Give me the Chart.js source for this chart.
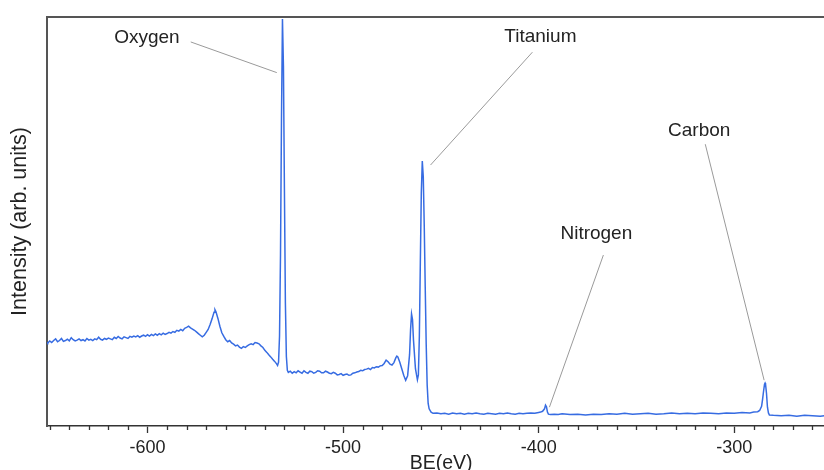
<!DOCTYPE html>
<html>
<head>
<meta charset="utf-8">
<title>XPS survey spectrum</title>
<script src="https://cdn.jsdelivr.net/npm/chart.js@4/dist/chart.umd.min.js"></script>
<style>
  html, body { margin: 0; padding: 0; background: #fff; overflow: hidden; }
  #wrap { width: 824px; height: 470px; overflow: hidden; position: relative; }
  canvas { display: block; }
</style>
</head>
<body>
<div id="wrap"><canvas id="c" width="836" height="480"></canvas></div>
<script>
// Binding energy (eV) and measured intensity (arb. units), low to high energy axis value
const bindingEnergy = [
  // background and satellite region
  -651.4, -651, -650, -649, -648, -647, -646, -645, -644, -643, -642,
  -641, -640, -639, -638, -637, -636, -635, -634, -633, -632,
  -631, -630, -629, -628, -627, -626, -625, -624, -623, -622,
  -621, -620, -619, -618, -617, -616, -615, -614, -613, -612,
  -611, -610, -609, -608, -607, -606, -605, -604, -603, -602,
  -601, -600, -599, -598, -597, -596, -595, -594, -593, -592,
  -591, -590, -589, -588, -587, -586, -585, -584, -583, -582,
  -581, -580, -579, -578, -577, -576, -575, -574, -573, -572,
  // O KLL-type bump and O 1s
  -571, -570, -569, -568, -567, -566, -565.5, -565, -564, -563,
  -562, -561, -560, -559, -558, -557, -556, -555, -554, -553,
  -552, -551, -550, -549, -548, -547, -546, -545, -544, -543,
  -542, -541, -540, -539, -538, -537, -536, -535, -534, -533.5,
  -533, -532.5, -532, -531.5, -531, -530.5, -530, -529.5, -529, -528.5,
  // plateau between O 1s and Ti 2p
  -528, -527, -526, -525, -524, -523, -522, -521, -520, -519,
  -518, -517, -516, -515, -514, -513, -512, -511, -510, -509,
  -508, -507, -506, -505, -504, -503, -502, -501, -500, -499,
  -498, -497, -496, -495, -494, -493, -492, -491, -490, -489,
  -488, -487, -486, -485, -484, -483, -482, -481, -480,
  // Ti 2p satellites and doublet
  -479, -478, -477, -476, -475, -474, -473, -472.5, -472, -471,
  -470, -469, -468, -467, -466, -465.5, -465, -464.5, -464, -463,
  -462, -461.5, -461, -460.5, -460, -459.5, -459, -458.5, -458, -457.5,
  -457, -456.5, -456, -455, -454,
  // flat background, N 1s
  -452, -450, -448, -446, -444, -442, -440, -438, -436, -434,
  -432, -430, -428, -426, -424, -422, -420, -418, -416, -414,
  -412, -410, -408, -406, -404, -402, -400, -399, -398, -397,
  -396.5, -396, -395.5, -395, -394, -392, -390, -388, -384, -380,
  -376, -372, -368, -364, -360, -356, -352, -348, -344, -340,
  -336, -332, -328, -324, -320, -316, -312, -308, -304, -300,
  // C 1s and tail
  -296, -292, -290, -288, -287, -286, -285.5, -285, -284.5, -284.2,
  -284, -283.5, -283, -282.5, -282, -280, -276, -272, -268, -264,
  -260, -256, -252, -248.4
];
const intensity = [
  20.5, 20.3, 20.8, 20.4, 20.9, 21.3, 20.6, 20.9, 21.4, 20.7, 20.9,
  21.2, 20.8, 21.6, 21.1, 20.8, 21.0, 21.3, 20.9, 21.1, 20.8,
  21.4, 21.0, 21.2, 20.9, 21.3, 21.1, 21.7, 21.2, 21.0, 21.4,
  21.2, 21.5, 21.3, 21.1, 21.7, 21.4, 21.9, 21.5, 21.3, 21.8,
  21.6, 21.4, 21.9, 21.7, 22.0, 21.8, 22.1, 21.7, 22.0, 22.2,
  21.9, 22.3, 22.0, 22.4, 22.1, 22.5, 22.2, 22.6, 22.3, 22.7,
  22.4, 22.6, 22.9, 22.7, 23.1, 22.9, 23.4, 23.2, 23.6, 23.3,
  23.9, 24.1, 24.4, 24.0, 23.7, 23.4, 23.0, 22.6, 22.2, 21.8,

  22.2, 22.9, 23.6, 24.8, 26.2, 27.8, 28.4, 27.9, 26.3, 24.4,
  22.8, 21.9, 21.1, 20.6, 20.9, 20.3, 20.0, 19.6, 19.8, 19.3,
  19.0, 19.4, 19.2, 19.6, 19.9, 20.1, 19.9, 20.4, 20.3, 20.1,
  19.6, 19.2, 18.5, 18.0, 17.4, 16.9, 16.3, 15.8, 15.2, 14.8,
  15.6, 22.0, 42.0, 75.0, 99.5, 88.0, 58.0, 30.0, 17.0, 13.6,

  13.1, 13.4, 12.9, 13.3, 13.0, 13.5, 13.2, 12.9, 13.5, 13.1,
  12.9, 13.4, 13.3, 12.9, 13.1, 13.5, 13.4, 13.0, 13.0, 13.4,
  13.2, 12.9, 12.8, 13.1, 12.9, 12.5, 12.6, 12.8, 12.4, 12.6,
  12.7, 12.4, 12.5, 12.9, 13.0, 13.2, 13.3, 13.6, 13.5, 13.8,
  13.9, 14.1, 13.8, 14.3, 14.2, 14.5, 14.4, 14.7, 14.8,

  15.3, 16.1, 15.7, 15.1, 14.9, 15.5, 16.7, 17.1, 16.9, 15.6,
  14.0, 12.4, 11.2, 12.3, 17.5, 23.5, 27.4, 26.0, 21.0, 14.0,
  11.3, 12.5, 22.0, 40.0, 57.0, 64.8, 61.0, 49.0, 34.0, 20.0,
  10.0, 5.5, 4.2, 3.4, 3.1,

  3.2, 3.0, 3.1, 2.9, 3.2, 3.0, 3.1, 2.9, 3.1, 3.0,
  3.2, 3.0, 2.9, 3.1, 3.0, 2.9, 3.1, 3.0, 3.2, 3.0,
  2.9, 3.1, 3.0, 3.1, 3.2, 3.1, 3.3, 3.4, 3.6, 4.2,
  5.1, 4.7, 3.4, 2.9, 2.8, 2.9, 2.8, 3.0, 2.8, 2.9,
  2.7, 2.9, 2.8, 3.0, 2.9, 3.1, 2.9, 3.0, 3.1, 2.9,
  3.0, 3.2, 3.0, 3.1, 3.0, 3.2, 3.1, 3.0, 3.2, 3.1,

  3.3, 3.2, 3.4, 3.5, 3.8, 4.8, 6.5, 8.5, 10.2, 10.5,
  10.3, 8.0, 4.6, 3.2, 2.7, 2.6, 2.5, 2.6, 2.4, 2.6,
  2.5, 2.4, 2.6, 2.5
];

// Major tick labels on the energy axis
const majorTicks = [-600, -500, -400, -300];

// Element call-outs: label centre and leader line, in (eV, intensity) units
const calloutNames = ['Oxygen', 'Titanium', 'Nitrogen', 'Carbon'];
const calloutLabelAt = [[-600.3, 94.9], [-399.1, 95.1], [-370.5, 46.9], [-317.9, 72.1]];
const calloutLineFrom = [[-577.9, 93.9], [-403.2, 91.4], [-366.9, 41.8], [-314.8, 68.9]];
const calloutLineTo = [[-533.9, 86.4], [-455.3, 63.8], [-394.5, 4.6], [-284.7, 11.2]];

const FONT = '"Liberation Sans", Arial, Helvetica, sans-serif';
const TEXT = '#232323';

const points = bindingEnergy.map((e, i) => ({ x: e, y: intensity[i] }));

// Frame on top, short minor ticks and element call-outs
const decorations = {
  id: 'decorations',
  afterDraw(chart) {
    const { ctx, chartArea: a, scales: { x, y } } = chart;
    ctx.save();
    // top frame line
    ctx.strokeStyle = '#555';
    ctx.lineWidth = 2;
    ctx.beginPath();
    ctx.moveTo(a.left - 1, a.top);
    ctx.lineTo(a.right, a.top);
    ctx.stroke();
    // minor ticks
    ctx.strokeStyle = '#333';
    ctx.lineWidth = 1.3;
    ctx.beginPath();
    x.ticks.forEach(t => {
      if (majorTicks.includes(t.value)) return;
      const px = Math.round(x.getPixelForValue(t.value)) + 0.5;
      ctx.moveTo(px, a.bottom);
      ctx.lineTo(px, a.bottom + 4);
    });
    ctx.stroke();
    // call-outs
    ctx.strokeStyle = '#9a9a9a';
    ctx.lineWidth = 1;
    ctx.fillStyle = TEXT;
    ctx.font = '19px ' + FONT;
    ctx.textAlign = 'center';
    ctx.textBaseline = 'middle';
    calloutNames.forEach((name, i) => {
      ctx.beginPath();
      ctx.moveTo(x.getPixelForValue(calloutLineFrom[i][0]), y.getPixelForValue(calloutLineFrom[i][1]));
      ctx.lineTo(x.getPixelForValue(calloutLineTo[i][0]), y.getPixelForValue(calloutLineTo[i][1]));
      ctx.stroke();
      ctx.fillText(name, x.getPixelForValue(calloutLabelAt[i][0]), y.getPixelForValue(calloutLabelAt[i][1]));
    });
    ctx.restore();
  }
};

new Chart(document.getElementById('c'), {
  type: 'line',
  data: {
    datasets: [{
      data: points,
      borderColor: '#376ce2',
      borderWidth: 1.5,
      pointRadius: 0,
      tension: 0,
      fill: false
    }]
  },
  options: {
    responsive: false,
    animation: false,
    devicePixelRatio: 1,
    layout: { padding: { top: 17, left: 0, right: 0, bottom: 0 } },
    plugins: { legend: { display: false }, tooltip: { enabled: false } },
    scales: {
      x: {
        type: 'linear',
        position: 'bottom',
        min: -651.4,
        max: -248.4,
        afterFit: s => { s.height = 54; },
        ticks: {
          stepSize: 10,
          includeBounds: false,
          autoSkip: false,
          maxRotation: 0,
          padding: 4,
          color: TEXT,
          font: { family: FONT, size: 18 },
          callback: v => (majorTicks.includes(v) ? String(v) : '')
        },
        grid: {
          display: true,
          drawOnChartArea: false,
          drawTicks: true,
          tickLength: 7,
          tickWidth: 1.3,
          tickColor: c => (c.tick && majorTicks.includes(c.tick.value) ? '#333' : 'rgba(0,0,0,0)')
        },
        border: { display: true, color: '#333', width: 1.6 },
        title: {
          display: true,
          text: 'BE(eV)',
          color: TEXT,
          font: { family: FONT, size: 19.5 },
          padding: { top: 0, bottom: 5 }
        }
      },
      y: {
        min: 0,
        max: 100,
        afterFit: s => { s.width = 47; },
        ticks: { display: false },
        grid: { display: false },
        border: { display: true, color: '#555', width: 2 },
        title: {
          display: true,
          text: 'Intensity (arb. units)',
          color: TEXT,
          font: { family: FONT, size: 21.5 },
          padding: { top: 7, bottom: 0 }
        }
      }
    }
  },
  plugins: [decorations]
});
</script>
</body>
</html>
